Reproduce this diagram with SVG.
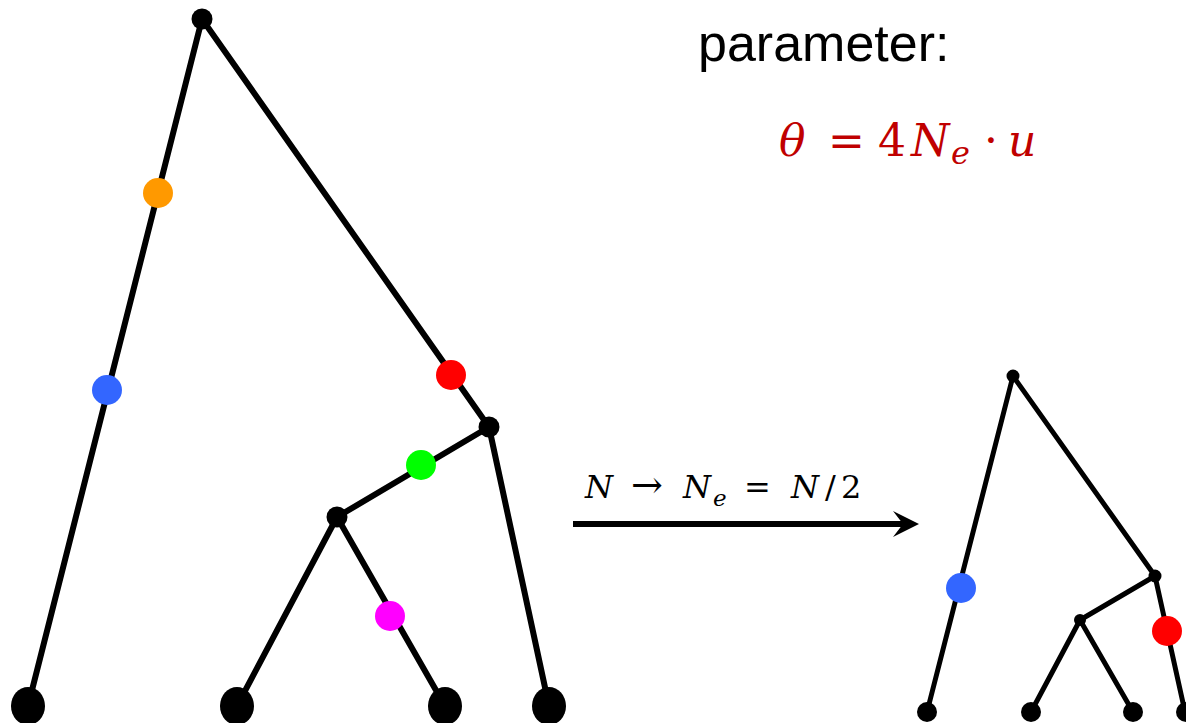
<svg xmlns="http://www.w3.org/2000/svg" width="1186" height="723" viewBox="0 0 1186 723">
<style>
.e{stroke:#000;stroke-width:6;stroke-linecap:round;fill:none}
.e2{stroke:#000;stroke-width:5;stroke-linecap:round;fill:none}
.n{fill:#000}
.lbl{font-family:"Liberation Sans",Arial,sans-serif;font-size:52px;fill:#000}
.m{font-family:"DejaVu Serif","Liberation Serif",serif;font-style:italic}
.up{font-style:normal}
</style>
<rect width="1186" height="723" fill="#fff"/>
<g id="connectors">
<line class="e" x1="202" y1="19" x2="28" y2="706"/>
<line class="e" x1="202" y1="19" x2="489" y2="427"/>
<line class="e" x1="489" y1="427" x2="549" y2="706"/>
<line class="e" x1="489" y1="427" x2="337" y2="517"/>
<line class="e" x1="337" y1="517" x2="237" y2="706"/>
<line class="e" x1="337" y1="517" x2="445" y2="706"/>
<line class="e2" x1="1013" y1="376" x2="927" y2="712"/>
<line class="e2" x1="1013" y1="376" x2="1155" y2="576"/>
<line class="e2" x1="1155" y1="576" x2="1080" y2="620"/>
<line class="e2" x1="1080" y1="620" x2="1031" y2="712"/>
<line class="e2" x1="1080" y1="620" x2="1133" y2="712"/>
<line class="e2" x1="1155" y1="576" x2="1185" y2="712"/>
<line x1="573" y1="524" x2="905" y2="524" stroke="#000" stroke-width="6"/>
<path d="M893,511 L919,524 L893,537 L903,524 Z" fill="#000"/>
</g>
<g id="left-root"><circle class="n" cx="202" cy="19" r="10.5"/></g>
<g id="left-n1"><circle class="n" cx="489" cy="427" r="10.5"/></g>
<g id="left-n2"><circle class="n" cx="337" cy="517" r="10.5"/></g>
<g id="left-leaf1"><ellipse class="n" cx="28" cy="706" rx="17" ry="19"/></g>
<g id="left-leaf2"><ellipse class="n" cx="237" cy="706" rx="17" ry="19"/></g>
<g id="left-leaf3"><ellipse class="n" cx="445" cy="706" rx="17" ry="19"/></g>
<g id="left-leaf4"><ellipse class="n" cx="549" cy="706" rx="17" ry="19"/></g>
<g id="mut-orange"><circle cx="158" cy="193" r="15" fill="#FF9900"/></g>
<g id="mut-blue"><circle cx="107" cy="390" r="15" fill="#3366FF"/></g>
<g id="mut-red"><circle cx="451" cy="375" r="15" fill="#FF0000"/></g>
<g id="mut-green"><circle cx="421" cy="465" r="15" fill="#00FF00"/></g>
<g id="mut-magenta"><circle cx="390" cy="616" r="15" fill="#FF00FF"/></g>
<g id="right-root"><circle class="n" cx="1013" cy="376" r="6.5"/></g>
<g id="right-n1"><circle class="n" cx="1155" cy="576" r="6.5"/></g>
<g id="right-n2"><circle class="n" cx="1080" cy="620" r="6"/></g>
<g id="right-leaf1"><circle class="n" cx="927" cy="712" r="10"/></g>
<g id="right-leaf2"><circle class="n" cx="1031" cy="712" r="10"/></g>
<g id="right-leaf3"><circle class="n" cx="1133" cy="712" r="10"/></g>
<g id="right-leaf4"><circle class="n" cx="1186" cy="712" r="10"/></g>
<g id="right-mut-blue"><circle cx="961" cy="588" r="15" fill="#3366FF"/></g>
<g id="right-mut-red"><circle cx="1167" cy="631" r="15" fill="#FF0000"/></g>
<g id="label-parameter"><text class="lbl" x="698" y="61">parameter:</text></g>
<g id="formula">
<text class="m" fill="#C00000" font-size="44" y="156"><tspan x="779">θ</tspan><tspan class="up" x="828">=</tspan><tspan class="up" x="878">4</tspan><tspan x="911">N</tspan><tspan x="951" y="164" font-size="32">e</tspan><tspan class="up" x="984" y="156">·</tspan><tspan x="1008">u</tspan></text>
</g>
<g id="arrow-label">
<text class="m" fill="#000" font-size="32" y="498"><tspan x="585">N</tspan><tspan class="up" x="631" font-size="38">→</tspan><tspan x="683" font-size="32">N</tspan><tspan x="713" y="506" font-size="23">e</tspan><tspan class="up" x="744" y="498" font-size="32">=</tspan><tspan x="791">N</tspan><tspan class="up" x="825">/</tspan><tspan class="up" x="841">2</tspan></text>
</g>
</svg>
